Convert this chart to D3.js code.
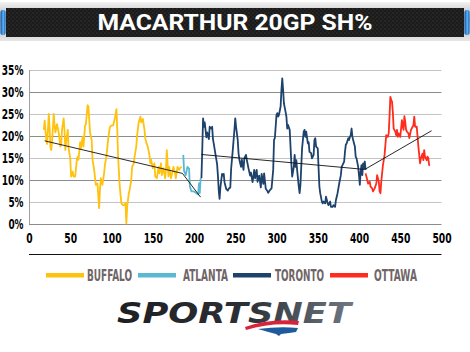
<!DOCTYPE html>
<html>
<head>
<meta charset="utf-8">
<script src="https://cdn.jsdelivr.net/npm/d3@7/dist/d3.min.js"></script>
<style>
  body { margin: 0; background: #fff; }
  svg { display: block; }
</style>
</head>
<body>
<script>
// chart values (game number, rolling 20GP shooting %)
var buffalo = [[18,21.4],[19,23.5],[21,19],[22,18.2],[24,25],[25,21.7],[26,17.4],[27,16.8],[28,19],[30,25],[31,22.4],[32,20.8],[34,22.7],[36,20.8],[38,17.6],[39,18],[40,21.4],[42,24],[43,21.4],[44,16.8],[45,18.6],[47,21.4],[48,17.2],[50,14.9],[51,10.8],[53,11.9],[54,10.8],[56,10.8],[58,14.6],[59,15.3],[60,14.6],[62,18.6],[63,17.2],[65,19.8],[66,17.6],[68,22.4],[69,22.7],[71,27],[72,26.7],[74,20.8],[76,19],[77,14.6],[79,12.3],[81,8.9],[83,9.2],[85,3.6],[86,7.8],[87,10.4],[89,8.9],[91,11.5],[92,13.4],[94,15.6],[96,19.4],[98,22],[100,22.4],[102,22.4],[104,23.9],[106,26.1],[107,21.4],[108,15.3],[110,8.5],[112,4.7],[114,4.3],[115,4.3],[117,4.7],[118,0.1],[119,4],[121,7],[122,7.8],[124,10],[125,13],[127,13.8],[128,15.3],[130,17.6],[131,20.1],[133,23.1],[135,24.4],[136,23.1],[138,23.9],[140,21.4],[141,19.4],[142,18.6],[144,17.6],[146,15.6],[147,13.8],[148,14.6],[150,12.7],[152,13.8],[153,10.8],[155,10.4],[157,13],[158,11.5],[160,13.8],[161,11.1],[163,12.7],[165,10.4],[166,12.3],[167,16.8],[169,10.8],[170,13],[172,10.4],[173,11.1],[175,13],[177,11.5],[178,10.4],[180,13],[182,12.3],[183,12.7],[185,13]];
var atlanta = [[187,15.7],[188,12],[190,11.1],[192,13],[194,12.6],[195,8.5],[197,7.4],[200,7.4],[203,7],[205,6.7],[206,9.2],[207,7],[208,10.4]];
var toronto = [[209,10.4],[210,16.8],[211,24],[212,22.1],[213,23.1],[215,19.7],[216,20.8],[218,19.3],[219,22.1],[221,21.7],[222,22.1],[223,19.3],[224,18.2],[226,15.9],[228,13.6],[229,11],[230,7.6],[231,5.7],[232,8.3],[234,11.4],[235,11],[236,11.4],[237,9.5],[239,8],[241,7.6],[242,8],[244,8.3],[245,12.5],[247,16.8],[249,21.4],[250,24],[251,22.1],[253,19.1],[254,16.1],[255,14.6],[257,13],[258,14.6],[260,12.3],[261,14.9],[263,15.7],[264,14.6],[266,12.7],[268,11],[269,11.7],[271,9.5],[273,12.3],[274,10.4],[276,12.3],[277,9.6],[279,11],[281,8.3],[282,11.4],[284,9.1],[285,11.5],[287,8],[289,7.5],[290,7.1],[292,7.7],[294,8.1],[296,12.3],[297,19.1],[298,19.5],[300,24.8],[301,25.2],[302,24.4],[303,24.8],[305,26.7],[306,30.5],[307,33.1],[308,30.5],[309,27.4],[311,25.5],[312,24.4],[313,21.7],[314,22.5],[316,21.4],[317,17.6],[318,13.8],[319,10.8],[321,13],[322,15.7],[323,13],[324,14.5],[325,12.3],[327,8.5],[328,7],[329,8.9],[330,13],[331,17.2],[333,21],[334,21.4],[335,19.8],[336,21],[338,18.3],[339,18.6],[340,16.4],[342,16.1],[343,14.9],[345,15.7],[346,19.1],[347,19.5],[348,17.6],[350,17.2],[351,12.7],[352,8.5],[353,7],[355,5.1],[356,4.7],[357,5.1],[359,4.7],[360,6.2],[362,4.7],[363,4.3],[365,5.1],[366,3.9],[368,3.9],[369,4.3],[371,3.9],[372,5.4],[374,7],[375,8.1],[376,9.2],[378,11.1],[379,13],[380,13.4],[382,14.2],[383,16.4],[384,18],[385,18.3],[387,19.5],[388,19.1],[389,19.8],[390,20.2],[391,21.7],[392,19.8],[394,18.3],[395,17.6],[396,15.3],[397,14.9],[399,13],[400,11.1],[401,8.9],[402,11.9],[403,13.4],[404,11.1],[405,13.8],[406,12.7],[407,14.2],[408,12.3]];
var ottawa = [[408,11.5],[410,10],[411,9.2],[413,9.6],[414,8.5],[416,8.1],[417,7.4],[419,8.1],[421,9.2],[422,11.1],[424,9.6],[425,7.4],[426,7],[427,9.6],[429,13.4],[430,14.5],[431,15.7],[432,18],[433,20.2],[435,19.8],[436,20.6],[437,24.4],[438,28.9],[439,28.2],[440,27.8],[441,25.5],[442,21.7],[444,21],[445,20.2],[446,21.4],[447,19.8],[448,20.6],[450,19.8],[451,21.7],[452,23.6],[453,22.1],[454,21.4],[455,24.5],[456,23.3],[457,21.5],[458,21],[460,20.6],[461,19.5],[463,21.4],[465,22.1],[466,22.5],[467,24.4],[468,22.1],[470,22.1],[471,19.8],[472,17.6],[473,15.7],[474,13.8],[475,14.9],[477,16],[478,14.5],[479,16.8],[480,15.3],[482,14.5],[483,15.3],[484,15],[485,13.4],[486,13.3]];

// linear trend per stint: [start game, start %], [end game, end %]
var buffaloTrend = [[19,18.9],[186,11.5]];
var atlantaTrend = [[186,11.5],[208,6.1]];
var torontoTrend = [[209,15.8],[407,12.4]];
var ottawaTrend = [[407,12.4],[488,21.2]];

var teams = ["BUFFALO", "ATLANTA", "TORONTO", "OTTAWA"];
var teamColors = ["#ffc20e", "#5ab8d3", "#1d426c", "#ff2b1c"];
var yTicks = [0, 5, 10, 15, 20, 25, 30, 35];
var xTicks = [0, 50, 100, 150, 200, 250, 300, 350, 400, 450, 500];

var W = 470, H = 352;
var svg = d3.select("body").append("svg")
  .attr("width", W)
  .attr("height", H);

var defs = svg.append("defs");

//////////////////////////
// title bar
var frame = defs.append("linearGradient").attr("id", "frame")
  .attr("x1", 0).attr("y1", 0).attr("x2", 0).attr("y2", 1);
frame.append("stop").attr("offset", "0%").attr("stop-color", "#f2f2f2");
frame.append("stop").attr("offset", "45%").attr("stop-color", "#b4b4b4");
frame.append("stop").attr("offset", "100%").attr("stop-color", "#e6e6e6");

var cap = defs.append("linearGradient").attr("id", "cap")
  .attr("x1", 0).attr("y1", 0).attr("x2", 1).attr("y2", 0);
cap.append("stop").attr("offset", "0%").attr("stop-color", "#0d4f9a");
cap.append("stop").attr("offset", "55%").attr("stop-color", "#59b4ff");
cap.append("stop").attr("offset", "100%").attr("stop-color", "#1560b0");

var weave = defs.append("pattern").attr("id", "weave")
  .attr("width", 4).attr("height", 4).attr("patternUnits", "userSpaceOnUse");
weave.append("rect").attr("width", 4).attr("height", 4).attr("fill", "#1b1b1b");
weave.append("rect").attr("width", 2).attr("height", 2).attr("fill", "#262626");
weave.append("rect").attr("x", 2).attr("y", 2).attr("width", 2).attr("height", 2).attr("fill", "#222");

svg.append("rect").attr("x", 0).attr("y", 2).attr("width", W).attr("height", 39)
  .attr("fill", "url(#frame)");
svg.append("rect").attr("x", 6).attr("y", 8).attr("width", W - 12).attr("height", 29)
  .attr("fill", "url(#weave)");
svg.append("rect").attr("x", 0.5).attr("y", 10).attr("width", 5).attr("height", 25).attr("rx", 2)
  .attr("fill", "url(#cap)");
svg.append("rect").attr("x", W - 5.5).attr("y", 10).attr("width", 5).attr("height", 25).attr("rx", 2)
  .attr("fill", "url(#cap)");
svg.append("text")
  .attr("x", 235).attr("y", 30)
  .attr("text-anchor", "middle")
  .attr("fill", "#fff")
  .attr("font-family", "Roboto, 'Open Sans', sans-serif")
  .attr("font-weight", "bold")
  .attr("font-size", 22)
  .attr("textLength", 275)
  .attr("lengthAdjust", "spacingAndGlyphs")
  .text("MACARTHUR 20GP SH%");

//////////////////////////
// plot
var x = d3.scaleLinear().domain([0, 500]).range([29, 441.5]);
var y = d3.scaleLinear().domain([0, 35]).range([224, 70]);
var tickFont = "'Liberation Sans Narrow', 'DejaVu Sans Condensed', sans-serif";

var grid = svg.append("g");
grid.selectAll("line")
  .data(yTicks)
  .enter()
  .append("line")
  .attr("x1", x(0)).attr("x2", x(500))
  .attr("y1", function(d) { return y(d) + 0.5; })
  .attr("y2", function(d) { return y(d) + 0.5; })
  .attr("stroke", function(d) { return d % 10 == 0 ? "#8c8c8c" : "#c4c4c4"; })
  .attr("stroke-width", 1);
grid.append("line")
  .attr("x1", x(0) + 0.5).attr("x2", x(0) + 0.5)
  .attr("y1", y(35)).attr("y2", y(0))
  .attr("stroke", "#a0a0a0");

// narrow labels: squeeze each one to the width seen in the picture
function squeeze(s) { return (s.length - 1) * 6.6 + 8.5; }

var yAxis = svg.append("g")
  .attr("transform", "translate(" + 23.5 + ",0)")
  .call(d3.axisLeft(y).tickValues(yTicks).tickSize(0).tickPadding(0)
    .tickFormat(function(d) { return d + "%"; }));
yAxis.select(".domain").remove();
yAxis.selectAll("text")
  .attr("font-family", tickFont)
  .attr("font-weight", "bold")
  .attr("font-size", 14)
  .attr("fill", "#000")
  .attr("textLength", function(d) { return squeeze(d + "%"); })
  .attr("lengthAdjust", "spacingAndGlyphs");

var xAxis = svg.append("g")
  .attr("transform", "translate(0," + 233 + ")")
  .call(d3.axisBottom(x).tickValues(xTicks).tickSize(0).tickPadding(0));
xAxis.select(".domain").remove();
xAxis.selectAll("text")
  .attr("font-family", tickFont)
  .attr("font-weight", "bold")
  .attr("font-size", 14)
  .attr("fill", "#000")
  .attr("textLength", function(d) { return String(d).length * 6.4; })
  .attr("lengthAdjust", "spacingAndGlyphs");

// separator under the x labels
svg.append("line")
  .attr("x1", x(0)).attr("x2", x(500))
  .attr("y1", 254.5).attr("y2", 254.5)
  .attr("stroke", "#111").attr("stroke-width", 1);

var line = d3.line()
  .x(function(d) { return x(d[0]); })
  .y(function(d) { return y(d[1]); });

var series = [buffalo, atlanta, toronto, ottawa];
svg.append("g").selectAll("path")
  .data(series)
  .enter()
  .append("path")
  .attr("d", line)
  .attr("fill", "none")
  .attr("stroke", function(d, i) { return teamColors[i]; })
  .attr("stroke-width", 1.8)
  .attr("stroke-linejoin", "round");

var trends = [buffaloTrend, atlantaTrend, torontoTrend, ottawaTrend];
svg.append("g").selectAll("path")
  .data(trends)
  .enter()
  .append("path")
  .attr("d", line)
  .attr("fill", "none")
  .attr("stroke", "#111")
  .attr("stroke-width", 0.9);

//////////////////////////
// legend
var swatchX = [46, 138, 233, 330];
var labelX = [87, 183, 275, 374];
var labelW = [45, 45, 49, 43];
var legend = svg.append("g");
legend.selectAll("rect")
  .data(teams)
  .enter()
  .append("rect")
  .attr("x", function(d, i) { return swatchX[i]; })
  .attr("y", 273)
  .attr("width", 38)
  .attr("height", 4.5)
  .attr("fill", function(d, i) { return teamColors[i]; });
legend.selectAll("text")
  .data(teams)
  .enter()
  .append("text")
  .attr("x", function(d, i) { return labelX[i]; })
  .attr("y", 281)
  .attr("font-family", tickFont)
  .attr("font-weight", "bold")
  .attr("font-size", 15)
  .attr("fill", "#6f6567")
  .attr("textLength", function(d, i) { return labelW[i]; })
  .attr("lengthAdjust", "spacingAndGlyphs")
  .text(function(d) { return d; });

//////////////////////////
// logo
var logoFill = defs.append("linearGradient").attr("id", "logoFill")
  .attr("x1", 0).attr("y1", 0).attr("x2", 1).attr("y2", 0);
logoFill.append("stop").attr("offset", "0%").attr("stop-color", "#1d1f22");
logoFill.append("stop").attr("offset", "55%").attr("stop-color", "#2c3035");
logoFill.append("stop").attr("offset", "100%").attr("stop-color", "#6f7984");

svg.append("text")
  .attr("x", 117).attr("y", 323)
  .attr("font-family", "'DejaVu Sans', sans-serif")
  .attr("font-weight", "bold")
  .attr("font-style", "italic")
  .attr("font-size", 29)
  .attr("textLength", 234)
  .attr("lengthAdjust", "spacingAndGlyphs")
  .attr("fill", "url(#logoFill)")
  .text("SPORTSNET");

svg.append("path")
  .attr("d", "M245,327 Q270,318 299,321 L298,325 Q272,322 246,330 Z")
  .attr("fill", "#d9233a");
svg.append("path")
  .attr("d", "M258,329 Q280,326 298,328 L296,332 Q290,333 281,334 L279,336 L276,334 Q268,332 258,329 Z")
  .attr("fill", "#1f5a9c");
</script>
</body>
</html>
